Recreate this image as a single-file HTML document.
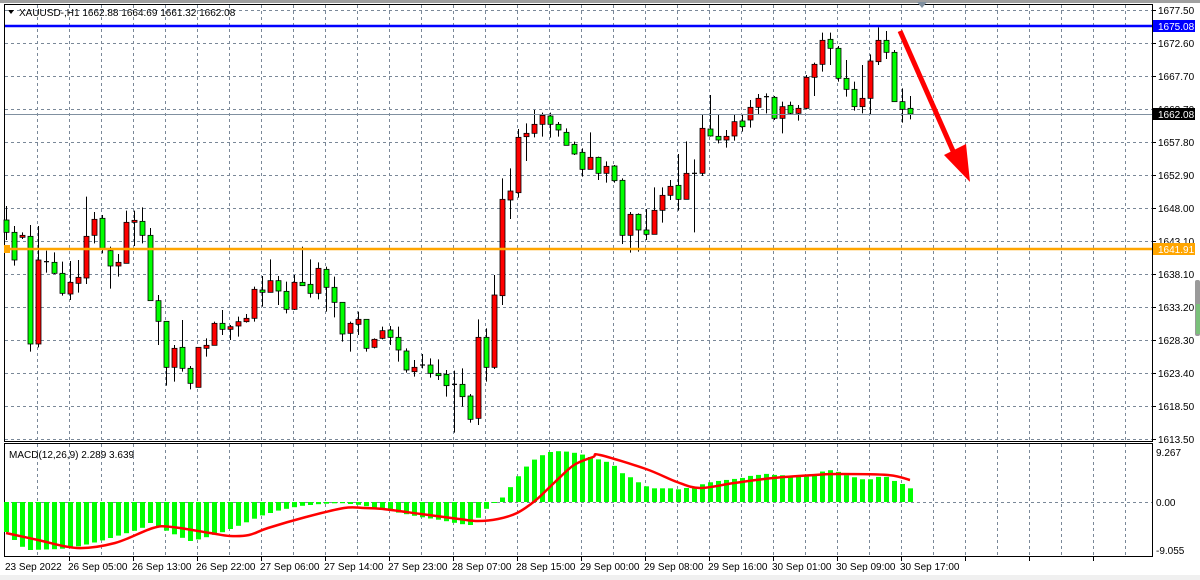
<!DOCTYPE html>
<html><head><meta charset="utf-8"><style>
html,body{margin:0;padding:0;background:#fff;}
svg{display:block;font-family:"Liberation Sans",sans-serif;}
</style></head><body>
<svg id="s" width="1200" height="580" viewBox="0 0 1200 580" xmlns="http://www.w3.org/2000/svg">
<rect x="0" y="0" width="1200" height="580" fill="#fff"/>
<rect x="0" y="0" width="1200" height="3" fill="#a0a0a0"/>
<rect x="0" y="575" width="1200" height="5" fill="#f0f0f0"/>
<g id="grid"></g>
<rect x="4.5" y="4.5" width="1148" height="437" fill="none" stroke="#000" stroke-width="1"/>
<rect x="4.5" y="443.5" width="1148" height="113" fill="none" stroke="#000" stroke-width="1"/>
<g id="macd"></g>
<g id="candles"></g>
<line x1="5" y1="114.5" x2="1152" y2="114.5" stroke="#8090a0" stroke-width="1"/>
<line x1="5" y1="26" x2="1152" y2="26" stroke="#0000ff" stroke-width="2.5"/>
<line x1="5" y1="249" x2="1152" y2="249" stroke="#ffa500" stroke-width="2.5"/>
<rect x="4" y="245" width="6" height="8" fill="#ffa500"/>
<line x1="900" y1="31" x2="957" y2="160" stroke="#ff0000" stroke-width="5"/>
<polygon points="944,155 966,144 970,182" fill="#ff0000"/>
<polygon points="917,2 927,2 922,8" fill="#8090a0"/>
<polygon points="8,10 14,10 11,14" fill="#000"/>
<text x="19" y="16" font-size="10" fill="#000">XAUUSD-,H1  1662.88 1664.69 1661.32 1662.08</text>
<text x="9" y="458" font-size="10" fill="#000">MACD(12,26,9) 2.289 3.639</text>
<g font-size="10" fill="#000">
<text x="1158" y="14">1677.50</text>
<text x="1158" y="47">1672.60</text>
<text x="1158" y="80">1667.70</text>
<text x="1158" y="113">1662.70</text>
<text x="1158" y="146">1657.80</text>
<text x="1158" y="179">1652.90</text>
<text x="1158" y="212">1648.00</text>
<text x="1158" y="245">1643.10</text>
<text x="1158" y="278">1638.10</text>
<text x="1158" y="311">1633.20</text>
<text x="1158" y="344">1628.30</text>
<text x="1158" y="377">1623.40</text>
<text x="1158" y="410">1618.50</text>
<text x="1158" y="443">1613.50</text>
</g>
<rect x="1153" y="20" width="42" height="12" fill="#0000ff"/>
<text x="1158" y="30" font-size="10" fill="#fff">1675.08</text>
<rect x="1153" y="108" width="42" height="12" fill="#000"/>
<text x="1158" y="118" font-size="10" fill="#fff">1662.08</text>
<rect x="1153" y="243" width="42" height="12" fill="#ffa500"/>
<text x="1158" y="253" font-size="10" fill="#fff">1641.91</text>
<rect x="1195" y="280" width="5" height="56" rx="2" fill="#9a9a9a"/>
<rect x="1196" y="304" width="4" height="30" fill="#7ac07a"/>
<text x="1156" y="456" font-size="10">9.267</text>
<text x="1156" y="506" font-size="10">0.00</text>
<text x="1156" y="554" font-size="10">-9.055</text>
<g font-size="10" fill="#000">
<text x="5" y="570">23 Sep 2022</text>
<text x="68" y="570">26 Sep 05:00</text>
<text x="132" y="570">26 Sep 13:00</text>
<text x="196" y="570">26 Sep 22:00</text>
<text x="260" y="570">27 Sep 06:00</text>
<text x="324" y="570">27 Sep 14:00</text>
<text x="388" y="570">27 Sep 23:00</text>
<text x="452" y="570">28 Sep 07:00</text>
<text x="516" y="570">28 Sep 15:00</text>
<text x="580" y="570">29 Sep 00:00</text>
<text x="644" y="570">29 Sep 08:00</text>
<text x="708" y="570">29 Sep 16:00</text>
<text x="772" y="570">30 Sep 01:00</text>
<text x="836" y="570">30 Sep 09:00</text>
<text x="900" y="570">30 Sep 17:00</text>
</g>
</svg>
<script>
var NS="http://www.w3.org/2000/svg";
function el(p,t,a){var e=document.createElementNS(NS,t);for(var k in a)e.setAttribute(k,a[k]);p.appendChild(e);return e;}
var g=document.getElementById('grid');
var gy=[10,43,76,109,142,175,208,241,274,307,340,373,406,439];
gy.forEach(function(y){el(g,'line',{x1:5,y1:y+.5,x2:1152,y2:y+.5,stroke:'#7a8898','stroke-dasharray':'3,3'});
 el(g,'line',{x1:1152,y1:y+.5,x2:1156,y2:y+.5,stroke:'#000'});});
for(var x=37;x<1152;x+=32){el(g,'line',{x1:x+.5,y1:5,x2:x+.5,y2:441,stroke:'#7a8898','stroke-dasharray':'3,3'});
 el(g,'line',{x1:x+.5,y1:444,x2:x+.5,y2:556,stroke:'#7a8898','stroke-dasharray':'3,3'});}
for(var x=69;x<1152;x+=64){el(g,'line',{x1:x+.5,y1:557,x2:x+.5,y2:561,stroke:'#000'});}
el(g,'line',{x1:5,y1:502.5,x2:1152,y2:502.5,stroke:'#7a8898','stroke-dasharray':'3,3'});
var C=[[660,697,618,720,'g'],[697,780,678,797,'g'],[706,712,697,717,'r'],[709,1032,675,1055,'g'],[780,1032,678,1042,'r'],[785,785,752,818,'d'],[787,820,757,822,'g'],[820,880,785,887,'g'],[847,882,783,900,'r'],[832,850,780,878,'r'],
[709,834,590,852,'r'],[658,706,636,730,'r'],[655,745,645,760,'g'],[752,798,740,866,'g'],[787,798,762,830,'r'],[667,790,632,790,'r'],[661,667,632,738,'r'],[664,706,622,730,'g'],[706,902,684,902,'g'],[902,964,885,1035,'g'],
[964,1102,964,1157,'g'],[1045,1102,1035,1145,'r'],[1042,1105,960,1115,'g'],[1105,1150,1098,1168,'g'],[1042,1162,1042,1162,'r'],[1036,1045,1015,1070,'r'],[970,1036,965,1036,'r'],[970,988,930,1005,'g'],[980,988,975,1020,'r'],[965,978,950,1010,'r'],
[955,965,942,968,'r'],[868,955,860,965,'r'],[870,877,828,920,'g'],[842,877,778,877,'r'],[842,873,828,915,'g'],[874,928,845,940,'g'],[847,928,825,930,'r'],[847,857,740,857,'g'],[853,880,778,893,'g'],[805,880,787,898,'r'],
[808,862,800,935,'g'],[862,907,830,952,'g'],[907,1002,907,1025,'g'],[970,1000,965,1055,'r'],[958,973,935,1005,'r'],[958,1045,958,1055,'g'],[1018,1042,1015,1045,'r'],[992,1015,980,1018,'r'],[990,1012,978,1035,'g'],[1012,1050,980,1085,'g'],
[1053,1110,1045,1118,'g'],[1102,1115,1080,1130,'r'],[1095,1095,1062,1105,'d'],[1095,1120,1075,1133,'g'],[1120,1127,1078,1140,'g'],[1123,1157,1110,1190,'g'],[1153,1153,1112,1298,'d'],[1153,1190,1105,1220,'g'],[1188,1258,1182,1268,'g'],[1012,1255,958,1275,'r'],
[1012,1102,985,1145,'g'],[885,1102,825,1107,'r'],[598,887,535,915,'r'],[573,600,505,657,'r'],[412,578,387,593,'r'],[400,410,370,483,'r'],[373,400,330,412,'r'],[346,373,338,410,'r'],[348,373,338,413,'g'],[373,390,366,410,'g'],
[397,436,385,436,'g'],[433,462,425,465,'g'],[457,508,445,530,'g'],[472,508,397,508,'r'],[472,520,470,540,'g'],[499,520,484,548,'r'],[498,542,495,548,'g'],[541,706,535,732,'g'],[643,706,636,758,'r'],[643,690,640,755,'g'],
[690,703,627,720,'g'],[631,703,562,703,'r'],[586,631,562,668,'r'],[559,586,540,600,'r'],[556,598,462,632,'g'],[520,598,424,598,'r'],[520,520,478,697,'d'],[385,520,345,528,'r'],[387,408,285,410,'g'],[409,420,345,430,'g'],
[409,420,390,443,'r'],[365,408,345,422,'r'],[363,380,345,395,'g'],[322,360,300,383,'r'],[295,322,282,345,'r'],[290,290,280,340,'d'],[292,355,288,360,'g'],[320,355,305,400,'r'],[316,340,305,345,'g'],[325,340,315,362,'r'],
[232,325,225,328,'r'],[193,232,188,288,'r'],[121,193,98,215,'r'],[118,145,98,195,'g'],[145,235,138,245,'g'],[235,268,180,290,'g'],[268,320,245,332,'g'],[295,320,195,340,'r'],[183,295,163,345,'r'],[121,185,82,195,'r'],
[121,157,93,177,'g'],[157,305,150,305,'g'],[305,328,265,368,'g'],[325,342,288,358,'g']];
var cg=document.getElementById('candles');
C.forEach(function(c,i){var x=6+8*i;
 el(cg,'line',{x1:x+.5,y1:c[2]/3,x2:x+.5,y2:c[3]/3,stroke:'#000','stroke-width':1});
 var t=c[0]/3,b=c[1]/3;
 if(c[4]=='d'){el(cg,'line',{x1:x-2,y1:t,x2:x+3,y2:t,stroke:'#000','stroke-width':1.2});}
 else el(cg,'rect',{x:x-2,y:t,width:5,height:Math.max(1,b-t),fill:c[4]=='g'?'#00ff00':'#ff0000',stroke:'#000','stroke-width':0.8});
});
var H=[[6,532],[20,546],[30,550],[60,549],[80,546],[100,541],[120,535],[140,529],[150,523],[160,528],[180,537],[190,541],[200,539],[220,533],[240,525],[260,516],[280,510],[300,506],[320,504],[340,503],[360,505],[380,509],[400,513],[420,517],[440,520],[460,524],[470,525],[480,516],[490,504],[500,500],[508,490],[515,480],[523,470],[530,462],[540,456],[550,452],[560,451],[570,452],[580,454],[590,457],[600,460]];
var Z=[65,77,99,111,126,138,144,144,144,147,143,140,132,126,122,119,116,113,107,104,101,104,105,106,108,109,104,94,90,95,105,111,117,117,110,110,122,131,144];
Z.forEach(function(z,k){H.push([6+8*(75+k),440+z/2.98]);});
function hv(x){for(var j=0;j<H.length-1;j++){if(x<=H[j+1][0]){var a=H[j],b=H[j+1];return a[1]+(b[1]-a[1])*(x-a[0])/(b[0]-a[0]);}}return H[H.length-1][1];}
var mg=document.getElementById('macd');
for(var i=0;i<114;i++){var x=6+8*i;var y=hv(x);var t=Math.min(y,502),h=Math.abs(y-502);
 el(mg,'rect',{x:x-2,y:t,width:5,height:Math.max(h,1),fill:'#00ff00'});}
var S=[[6,533],[38,540],[77,548],[115,543],[153,528],[172,527],[210,533],[230,536],[249,535],[268,528],[306,517],[344,508],[364,508],[383,509],[421,514],[459,519],[478,521],[498,519],[517,513],[536,500],[555,482],[574,465],[593,457],[600,455],[646,469],[677,482],[700,488],[734,483],[773,478],[815,475],[838,474],[888,475],[910,480]];
var d='M'+S[0][0]+','+S[0][1];
for(var i=0;i<S.length-1;i++){var p0=S[Math.max(0,i-1)],p1=S[i],p2=S[i+1],p3=S[Math.min(S.length-1,i+2)];
 d+=' C'+(p1[0]+(p2[0]-p0[0])/6)+','+(p1[1]+(p2[1]-p0[1])/6)+' '+(p2[0]-(p3[0]-p1[0])/6)+','+(p2[1]-(p3[1]-p1[1])/6)+' '+p2[0]+','+p2[1];}
el(mg,'path',{d:d,fill:'none',stroke:'#ff0000','stroke-width':2.5});
</script>
</body></html>
